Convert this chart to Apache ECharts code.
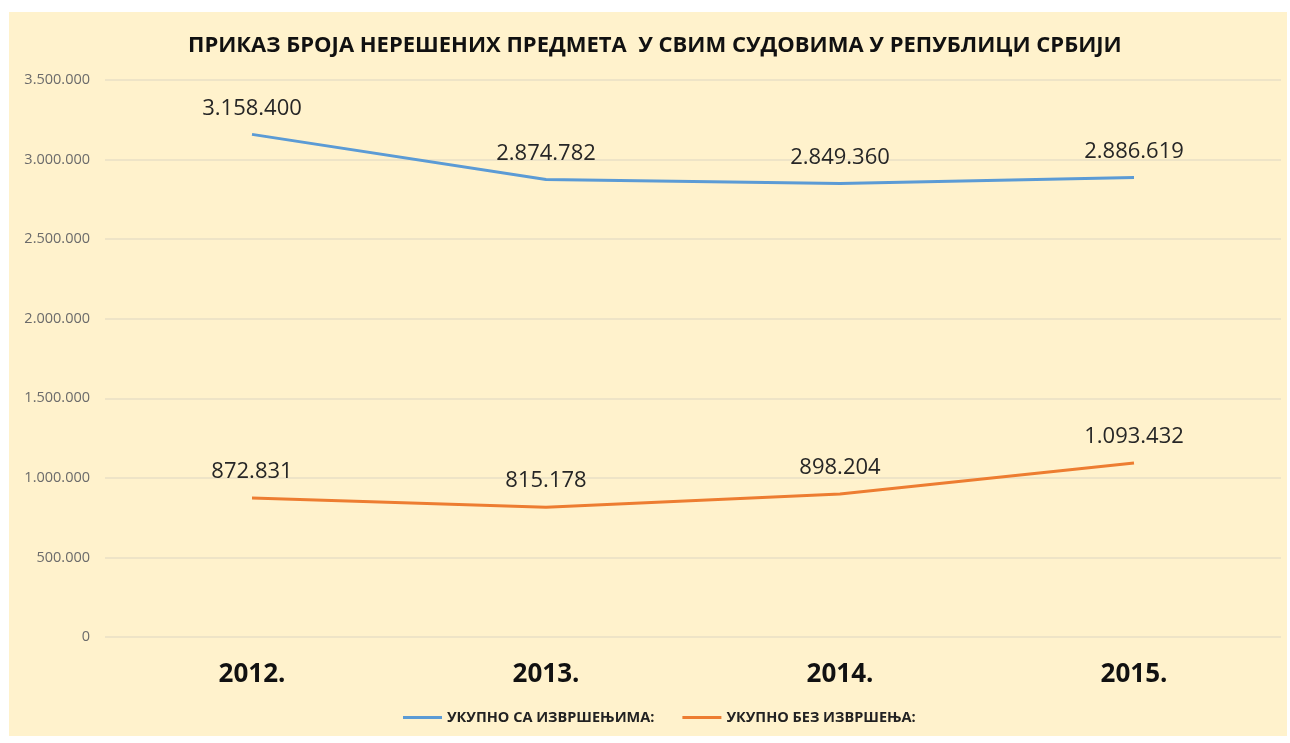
<!DOCTYPE html>
<html><head><meta charset="utf-8">
<script src="https://cdn.jsdelivr.net/npm/echarts@6/dist/echarts.min.js"></script>
<style>
html,body{margin:0;padding:0;background:#fff;width:1290px;height:743px;overflow:hidden}
#c{position:absolute;left:9px;top:12px;width:1278px;height:724px}
</style></head>
<body><div id="c"></div>
<script>
const categories = ['2012.', '2013.', '2014.', '2015.'];
const seriesNames = ['УКУПНО СА ИЗВРШЕЊИМА:', 'УКУПНО БЕЗ ИЗВРШЕЊА:'];
const withEnforcement = [3158400, 2874782, 2849360, 2886619];
const withoutEnforcement = [872831, 815178, 898204, 1093432];
const yTicks = [0, 500000, 1000000, 1500000, 2000000, 2500000, 3000000, 3500000];

function fmt(v){ return String(Math.round(v)).replace(/\B(?=(\d{3})+(?!\d))/g, '.'); }

const chart = echarts.init(document.getElementById('c'), null, {renderer:'canvas'});
const F = '"Open Sans", "Noto Sans", sans-serif';
const labelCfg = {show: true, position: 'top', distance: 15, fontFamily: F, fontSize: 22, color: '#262626', formatter: p => fmt(p.value)};
chart.setOption({
  backgroundColor: '#FFF2CC',
  animation: false,
  title: {
    text: 'ПРИКАЗ БРОЈА НЕРЕШЕНИХ ПРЕДМЕТА  У СВИМ СУДОВИМА У РЕПУБЛИЦИ СРБИЈИ',
    left: 174, top: 18,
    textStyle: {fontFamily: F, fontWeight: 'bold', fontSize: 22, color: '#111'}
  },
  legend: {
    top: 693, left: 389, itemWidth: 39, itemHeight: 3, itemGap: 28,
    icon: 'rect',
    textStyle: {fontFamily: F, fontWeight: 'bold', fontSize: 14.5, color: '#222'},
    data: seriesNames
  },
  grid: {left: 96, right: 6, top: 68, bottom: 99},
  xAxis: {
    type: 'category', data: categories, boundaryGap: true,
    axisLine: {show: false}, axisTick: {show: false},
    axisLabel: {fontFamily: F, fontWeight: 'bold', fontSize: 26, color: '#111', margin: 25}
  },
  yAxis: {
    type: 'value', min: yTicks[0], max: yTicks[yTicks.length-1], interval: 500000,
    axisLine: {show: false}, axisTick: {show: false},
    splitLine: {lineStyle: {color: '#E9DFC6', width: 1.5}},
    axisLabel: {fontFamily: F, fontSize: 14.5, color: '#6b6b6b', margin: 15, formatter: fmt}
  },
  series: [
    {name: seriesNames[0], type: 'line', data: withEnforcement, symbol: 'circle', symbolSize: 0.1, showSymbol: true,
     lineStyle: {color: '#5B9BD5', width: 3}, itemStyle: {color: '#5B9BD5'}, label: labelCfg},
    {name: seriesNames[1], type: 'line', data: withoutEnforcement, symbol: 'circle', symbolSize: 0.1, showSymbol: true,
     lineStyle: {color: '#ED7D31', width: 3}, itemStyle: {color: '#ED7D31'}, label: labelCfg}
  ]
});
</script></body></html>
